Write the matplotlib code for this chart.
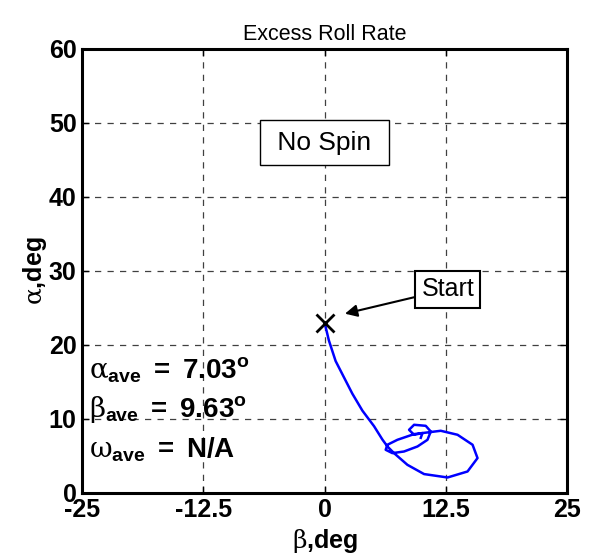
import matplotlib
matplotlib.use("Agg")
import matplotlib.pyplot as plt

# mathtext: greek in serif (upright), text in bold sans
plt.rcParams['mathtext.fontset'] = 'custom'
plt.rcParams['mathtext.it'] = 'DejaVu Serif'
plt.rcParams['mathtext.rm'] = 'DejaVu Serif'
plt.rcParams['mathtext.bf'] = 'Liberation Sans:bold'
plt.rcParams['font.family'] = ['Liberation Sans', 'DejaVu Sans']

# trajectory (deg)
beta = [0.0, 0.44, 1.14, 2.0, 2.86, 3.9, 5.1, 5.96, 6.48, 7.16, 8.54, 10.26,
        12.68, 14.74, 15.77, 15.26, 13.71, 11.98, 9.23, 7.51, 6.48, 6.3, 6.99,
        8.19, 9.58, 10.61, 10.95, 10.43, 9.23, 8.71, 9.23, 10.09, 9.92]
alpha = [23.0, 20.6, 17.8, 15.6, 13.4, 11.1, 9.0, 7.2, 6.26, 5.36, 3.78, 2.53,
         2.07, 2.88, 4.69, 6.49, 7.84, 8.38, 7.93, 7.16, 6.49, 5.81, 5.36,
         5.58, 6.26, 7.16, 8.28, 9.05, 9.19, 8.51, 7.84, 8.07, 7.43]

xticks = [-25, -12.5, 0, 12.5, 25]
xticklabels = ['-25', '-12.5', '0', '12.5', '25']
yticks = [0, 10, 20, 30, 40, 50, 60]

stats = [r'$\alpha_{\mathbf{ave}}\mathbf{\;{=}\;7.03^{o}}$',
         r'$\beta_{\mathbf{ave}}\mathbf{\;{=}\;9.63^{o}}$',
         r'$\omega_{\mathbf{ave}}\mathbf{\;{=}\;N/A}$']

fig = plt.figure(figsize=(5.95, 5.6), dpi=100)
ax = fig.add_axes([0.138, 0.12, 0.815, 0.793])

ax.plot(beta, alpha, color='#0000ff', lw=1.8)
ax.plot(beta[0], alpha[0], marker='x', color='black', ms=13, mew=2)

ax.set_xlim(-25, 25)
ax.set_ylim(0, 60)
ax.set_xticks(xticks)
ax.set_xticklabels(xticklabels)
ax.set_yticks(yticks)
ax.tick_params(direction='in', length=5, width=1, top=True, right=True,
               labelsize=18, pad=4)
for lab in ax.get_xticklabels() + ax.get_yticklabels():
    lab.set_fontweight('bold')
ax.grid(True, linestyle=(0, (5, 5)), color='#404040', lw=0.9)
for sp in ax.spines.values():
    sp.set_linewidth(2.2)

ax.set_title('Excess Roll Rate', fontsize=15.5, pad=6)
ax.set_xlabel(r'$\beta\mathbf{{,}deg}$', fontsize=18, labelpad=3)
ax.set_ylabel(r'$\alpha\mathbf{{,}deg}$', fontsize=18, labelpad=0)

ax.text(0, 47.3, ' No Spin ', fontsize=19, ha='center', va='center',
        bbox=dict(boxstyle='square,pad=0.4', fc='white', ec='black', lw=1))

ax.annotate('Start', xy=(2.1, 24.2), xytext=(12.7, 27.5), fontsize=18,
            ha='center', va='center',
            bbox=dict(boxstyle='square,pad=0.25', fc='white', ec='black', lw=1.5),
            arrowprops=dict(arrowstyle='-|>', color='black', lw=1.5,
                            mutation_scale=18, shrinkA=0, shrinkB=0))

for i, s in enumerate(stats):
    ax.text(-24.3, 16.6 - i * 5.4, s, fontsize=20, ha='left', va='center')

fig.savefig('out.png', dpi=100)
